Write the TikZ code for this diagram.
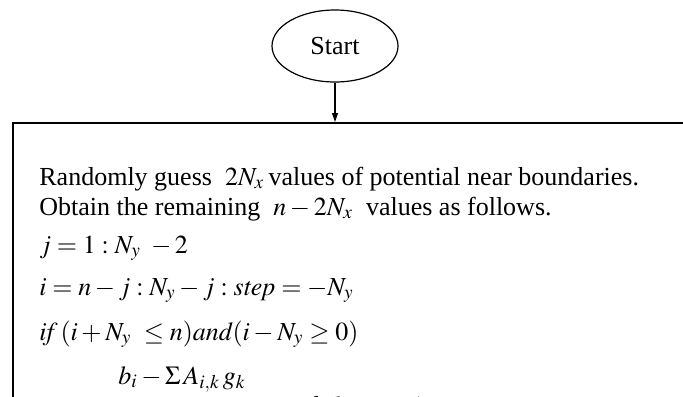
\documentclass[tikz,border=0pt]{standalone}
\usepackage{mathptmx}
\usepackage{fontspec}
\setmainfont{Liberation Serif}
\usetikzlibrary{shapes.geometric,arrows.meta}
\tikzset{
  startnode/.style={draw, ellipse, line width=0.6pt, minimum width=63pt, minimum height=36pt, inner sep=0pt, font=\fontsize{13}{15}\selectfont},
  bigbox/.style={draw, rectangle, line width=0.9pt, anchor=north west, minimum width=400pt, minimum height=200pt, inner sep=0pt},
  txt/.style={anchor=base west, inner sep=0pt, font=\fontsize{13}{15}\selectfont},
  flow/.style={line width=0.6pt, -{Triangle[length=4.5pt,width=3pt]}}
}
\begin{document}
\begin{tikzpicture}[x=0.5pt,y=-0.5pt]
\useasboundingbox (0,0) rectangle (683,396);
\clip (0,0) rectangle (683,396);
\node[startnode] (start) at (335,46) {Start};
\node[bigbox] (box) at (12,122) {};
\draw[flow] (start.south) -- (start.south |- box.north);
\node[txt] (l1) at (39,185) {Randomly guess \ $2N_x$\,values of potential near boundaries.};
\node[txt] (l2) at (39,215) {Obtain the remaining \ $n-2N_x$ \ values as follows.};
\node[txt] (l3) at (39,253) {$j=1:N_y\ -2$};
\node[txt] (l4) at (39,295) {$i=n-j:N_y-j:\mathit{step}=-N_y$};
\node[txt] (l5) at (39,340) {$\mathit{if}\,(i+N_y\ \le n)\mathit{and}(i-N_y\ge 0)$};
\node[txt] (l6) at (118,384) {$b_i-\Sigma\, A_{i,k}\,g_k$};
\node[txt] (l7) at (282,414) {and \ $k=i-1,\ i-N_y,\ i+N_y$};
\end{tikzpicture}
\end{document}
